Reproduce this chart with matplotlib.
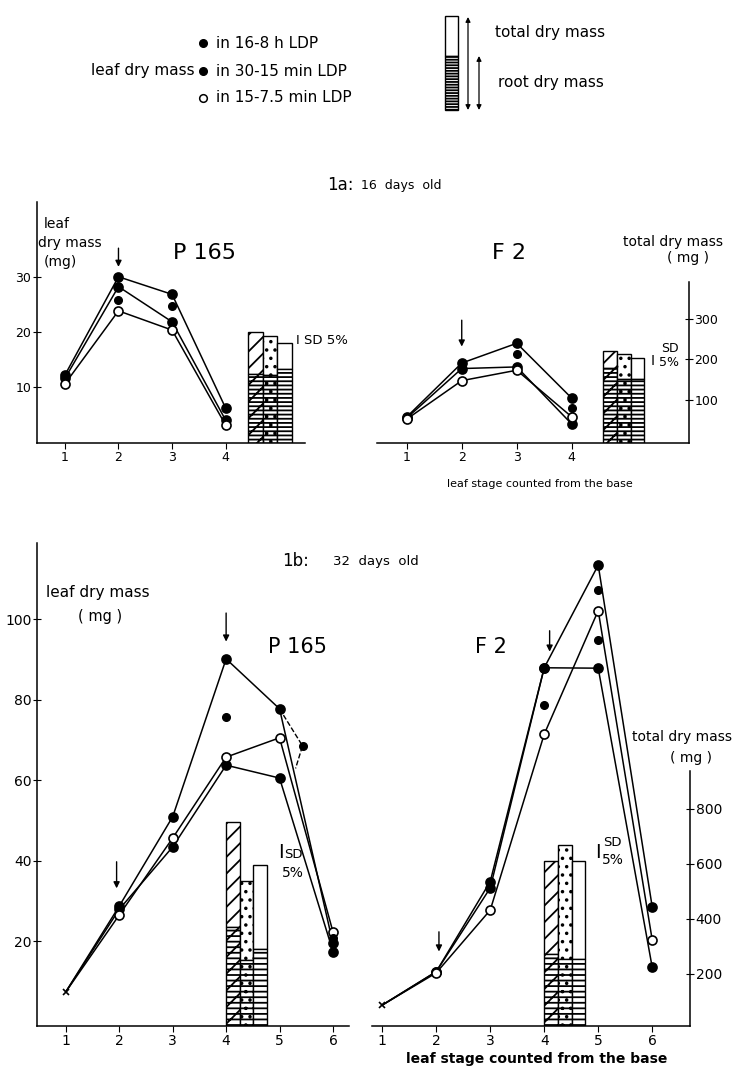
import numpy as np
import matplotlib.pyplot as plt
from matplotlib.patches import Rectangle

plt.rcParams['font.family'] = ['DejaVu Sans']
plt.rcParams['hatch.linewidth'] = 1.3
plt.rcParams['axes.linewidth'] = 1.1

W, H = 749, 1070

# leaf stages
stages_16 = [1, 2, 3, 4]
stages_32 = [1, 2, 3, 4, 5, 6]

# 1a: 16 days old, leaf dry mass (mg)
p165_16_a = [12.1, 30.0, 26.8, 6.1]
p165_16_b = [11.5, 28.2, 21.8, 3.9]
p165_16_c = [10.5, 23.8, 20.3, 3.0]
p165_16_dot_x = [2, 3]
p165_16_dot = [25.8, 24.7]

f2_16_a = [4.5, 14.3, 17.9, 7.9]
f2_16_b = [4.3, 13.3, 13.6, 3.2]
f2_16_c = [4.1, 11.1, 13.0, 4.5]
f2_16_dot_x = [3, 4]
f2_16_dot = [15.9, 6.1]

# total / root dry mass (mg)
p165_16_total = [267, 258, 239]
p165_16_root = [164, 160, 175]
f2_16_total = [220, 212, 202]
f2_16_root = [177, 150, 150]

# 1b: 32 days old, leaf dry mass (mg)
p165_32_a = [7.5, 28.8, 51.0, 90.2, 77.8, 19.5]
p165_32_b = [7.5, 28.0, 43.5, 63.8, 60.6, 17.5]
p165_32_c = [7.5, 26.6, 45.7, 65.8, 70.6, 22.4]
p165_32_dot_x = [4, 6]
p165_32_dot = [75.8, 20.9]
p165_32_dash_x = [5, 5.43, 5.3]
p165_32_dash = [77.8, 68.6, 63.0]

f2_32_a = [4.2, 12.5, 34.9, 88.0, 113.5, 28.6]
f2_32_b = [4.2, 12.5, 33.3, 88.0, 87.9, 13.6]
f2_32_c = [4.2, 12.2, 27.8, 71.5, 102.2, 20.4]
f2_32_dot_x = [4, 5, 5]
f2_32_dot = [78.8, 107.3, 94.9]

p165_32_total = [753, 538, 596]
p165_32_root = [371, 251, 291]
f2_32_total = [611, 669, 611]
f2_32_root = [273, 255, 255]

fig = plt.figure(figsize=(W / 100, H / 100), dpi=100)


def px_axes(l, t, r, b):
    return fig.add_axes([l / W, 1 - b / H, (r - l) / W, (b - t) / H])


def leaf_lines(ax, x, a, b, c, dx, dy, first_marker='o'):
    for ys, face in [(a, 'k'), (b, 'k'), (c, 'white')]:
        ax.plot(x, ys, '-', color='k', lw=1.1, zorder=3)
        ax.plot(x[1:] if first_marker == 'x' else x,
                ys[1:] if first_marker == 'x' else ys,
                'o', ms=6.5, mfc=face, mec='k', mew=1.2, zorder=4)
    if first_marker == 'x':
        ax.plot(x[0], a[0], 'x', ms=4, color='k', mew=1.2, zorder=4)
    ax.plot(dx, dy, 'o', ms=5.5, color='k', zorder=4)


def bars(ax, x0, w, total, root, hdens):
    base = ax.get_ylim()[0]
    xs = x0 + w * (np.arange(3) + 0.5)
    tops = ['//', '..', '']
    roots = ['//' + hdens, '..' + hdens, hdens]
    for i in range(3):
        ax.bar(xs[i], total[i] - root[i], w, bottom=root[i], facecolor='white',
               edgecolor='k', hatch=tops[i], lw=1.0)
        ax.bar(xs[i], root[i] - base, w, bottom=base, facecolor='white',
               edgecolor='k', hatch=roots[i], lw=1.0)


def arrow(ax, x, y0, y1):
    ax.annotate('', xy=(x, y1), xytext=(x, y0),
                arrowprops=dict(arrowstyle='-|>', color='k', lw=1.0,
                                mutation_scale=9, shrinkA=0, shrinkB=0))


def style(ax, left=True, size=9):
    for s in ['top', 'right']:
        ax.spines[s].set_visible(False)
    if not left:
        ax.spines['left'].set_visible(False)
        ax.set_yticks([])
    ax.tick_params(axis='x', direction='out', length=4, labelsize=size, pad=2)
    ax.tick_params(axis='y', direction='inout', length=6, labelsize=size, pad=1)


def twin(ax, ylim, show=False, bound=None, ticks=(), size=9):
    t = ax.twinx()
    t.set_ylim(*ylim)
    for s in ['top', 'left', 'bottom']:
        t.spines[s].set_visible(False)
    if show:
        t.spines['right'].set_bounds(ylim[0], bound)
        t.set_yticks(ticks)
        t.tick_params(axis='y', direction='inout', length=6, labelsize=size, pad=1)
    else:
        t.spines['right'].set_visible(False)
        t.set_yticks([])
    ax.set_zorder(t.get_zorder() + 1)
    ax.patch.set_visible(False)
    return t


# ---- 1a ----
a1 = px_axes(37, 202, 305, 443)
a1.set_xlim(0.48, 5.48)
a1.set_ylim(-0.24, 43.6)
style(a1)
a1.set_xticks(stages_16)
a1.set_yticks([10, 20, 30])
t1 = twin(a1, (-7.4, 587.7))
bars(t1, 4.42, 0.27, p165_16_total, p165_16_root, '----')
leaf_lines(a1, stages_16, p165_16_a, p165_16_b, p165_16_c, p165_16_dot_x, p165_16_dot)
arrow(a1, 2, 35.2, 31.8)

a2 = px_axes(377, 202, 689, 443)
a2.set_xlim(0.46, 6.13)
a2.set_ylim(-0.24, 43.6)
style(a2, left=False)
a2.set_xticks(stages_16)
t2 = twin(a2, (-7.4, 587.7), show=True, bound=390, ticks=[100, 200, 300])
bars(t2, 4.57, 0.25, f2_16_total, f2_16_root, '----')
leaf_lines(a2, stages_16, f2_16_a, f2_16_b, f2_16_c, f2_16_dot_x, f2_16_dot)
arrow(a2, 2, 22.1, 17.3)

# ---- 1b ----
b1 = px_axes(37, 543, 349, 1026)
b1.set_xlim(0.46, 6.3)
b1.set_ylim(-1, 119)
style(b1, size=10)
b1.set_xticks(stages_32)
b1.set_yticks([20, 40, 60, 80, 100])
u1 = twin(b1, (10, 1766))
bars(u1, 4.0, 0.255, p165_32_total, p165_32_root, '---')
leaf_lines(b1, stages_32, p165_32_a, p165_32_b, p165_32_c, p165_32_dot_x, p165_32_dot,
           first_marker='x')
b1.plot(p165_32_dash_x, p165_32_dash, '--', color='k', lw=1.0, zorder=3)
b1.plot(p165_32_dash_x[1], p165_32_dash[1], 'o', ms=5.5, color='k', zorder=4)
arrow(b1, 4, 101.6, 94.5)
arrow(b1, 1.95, 39.8, 33.2)

b2 = px_axes(372, 543, 690, 1026)
b2.set_xlim(0.81, 6.7)
b2.set_ylim(-1, 119)
style(b2, left=False, size=10)
b2.set_xticks(stages_32)
u2 = twin(b2, (10, 1766), show=True, bound=938, ticks=[200, 400, 600, 800], size=10)
bars(u2, 4.0, 0.253, f2_32_total, f2_32_root, '---')
leaf_lines(b2, stages_32, f2_32_a, f2_32_b, f2_32_c, f2_32_dot_x, f2_32_dot,
           first_marker='x')
arrow(b2, 4.1, 97.2, 92.0)
arrow(b2, 2.05, 22.4, 17.5)

# ---- free text and key, in pixel coordinates ----
ov = fig.add_axes([0, 0, 1, 1], zorder=20)
ov.set_xlim(0, W)
ov.set_ylim(H, 0)
ov.axis('off')

fs = 11
ov.plot(203, 43, 'o', ms=5.5, color='k')
ov.text(216, 43, 'in 16-8 h LDP', fontsize=fs, va='center')
ov.text(195, 71, 'leaf dry mass', fontsize=fs, va='center', ha='right')
ov.plot(203, 71, 'o', ms=5.5, color='k')
ov.text(216, 71, 'in 30-15 min LDP', fontsize=fs, va='center')
ov.plot(203, 98, 'o', ms=5.5, mfc='white', mec='k', mew=1.1)
ov.text(216, 98, 'in 15-7.5 min LDP', fontsize=fs, va='center')

ov.add_patch(Rectangle((445, 16), 13, 40, fc='white', ec='k', lw=1))
ov.add_patch(Rectangle((445, 56), 13, 54, fc='white', ec='k', lw=1, hatch='------'))
for x, y0 in [(468, 17), (479, 56)]:
    ov.annotate('', xy=(x, 110), xytext=(x, y0),
                arrowprops=dict(arrowstyle='<|-|>', color='k', lw=0.9,
                                mutation_scale=7, shrinkA=0, shrinkB=0))
ov.text(495, 33, 'total dry mass', fontsize=fs, va='center')
ov.text(498, 82, 'root dry mass', fontsize=fs, va='center')

ov.text(327, 185, '1a:', fontsize=12, va='center')
ov.text(361, 186, '16  days  old', fontsize=9, va='center')
ov.text(44, 224, 'leaf', fontsize=10, va='center')
ov.text(38, 243, 'dry mass', fontsize=10, va='center')
ov.text(44, 262, '(mg)', fontsize=10, va='center')
ov.text(173, 253, 'P 165', fontsize=16, va='center')
ov.text(296, 341, 'I SD 5%', fontsize=9.5, va='center')
ov.text(492, 253, 'F 2', fontsize=16, va='center')
ov.text(623, 242, 'total dry mass', fontsize=10, va='center')
ov.text(688, 258, '( mg )', fontsize=10, va='center', ha='center')
ov.text(651, 361, 'I', fontsize=10, va='center')
ov.text(661, 349, 'SD', fontsize=9, va='center')
ov.text(659, 362, '5%', fontsize=9, va='center')
ov.text(540, 484, 'leaf stage counted from the base', fontsize=8, va='center', ha='center')

ov.text(282, 561, '1b:', fontsize=12, va='center')
ov.text(333, 562, '32  days  old', fontsize=9.5, va='center')
ov.text(46, 593, 'leaf dry mass', fontsize=11, va='center')
ov.text(78, 616, '( mg )', fontsize=10.5, va='center')
ov.text(268, 647, 'P 165', fontsize=15, va='center')
ov.text(278, 853, 'I', fontsize=14, va='center')
ov.text(284, 855, 'SD', fontsize=9.5, va='center')
ov.text(282, 873, '5%', fontsize=10, va='center')
ov.text(475, 647, 'F 2', fontsize=15, va='center')
ov.text(632, 737, 'total dry mass', fontsize=10, va='center')
ov.text(691, 758, '( mg )', fontsize=10, va='center', ha='center')
ov.text(595, 852, 'I', fontsize=14, va='center')
ov.text(603, 842, 'SD', fontsize=9.5, va='center')
ov.text(602, 860, '5%', fontsize=10, va='center')
ov.text(537, 1059, 'leaf stage counted from the base', fontsize=10, va='center',
        ha='center', fontweight='bold')

fig.savefig('out.png', dpi=100)
